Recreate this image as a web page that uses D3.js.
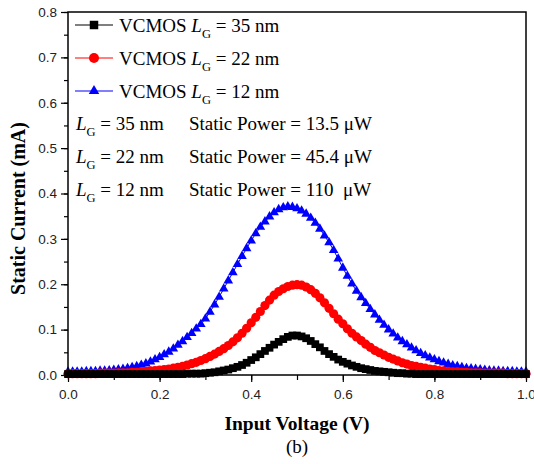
<!DOCTYPE html>
<html>
<head>
<meta charset="utf-8">
<script src="https://cdn.jsdelivr.net/npm/d3@7"></script>
<style>
  html, body { margin: 0; padding: 0; background: #fff; }
  svg { display: block; }
  .tick text { font-family: "Liberation Sans", Arial, sans-serif; font-size: 13.5px; fill: #222; }
  .serif { font-family: "Liberation Serif", "Times New Roman", serif; fill: #000; }
</style>
</head>
<body>
<svg id="chart" width="534" height="464"></svg>
<script>
// Input voltage sweep, 0 to 1 V in 10 mV steps
const inputVoltage = d3.range(0, 101).map(i => i / 100);

// Static current (mA) for each gate length
const current35 = [
  0.002,0.002,0.002,0.002,0.002,0.002,0.002,0.002,0.002,0.002,
  0.002,0.002,0.002,0.002,0.002,0.002,0.002,0.002,0.002,0.002,
  0.002,0.002,0.002,0.002,0.002,0.002,0.003,0.003,0.003,0.003,
  0.004,0.005,0.006,0.008,0.010,0.012,0.015,0.018,0.022,0.027,
  0.033,0.039,0.046,0.053,0.060,0.067,0.073,0.079,0.084,0.087,
  0.087,0.085,0.081,0.075,0.068,0.061,0.053,0.046,0.040,0.034,
  0.029,0.025,0.021,0.018,0.015,0.013,0.011,0.009,0.008,0.007,
  0.006,0.005,0.004,0.004,0.003,0.003,0.002,0.002,0.002,0.002,
  0.002,0.002,0.002,0.002,0.002,0.002,0.002,0.002,0.002,0.002,
  0.002,0.002,0.002,0.002,0.002,0.002,0.002,0.002,0.002,0.002,
  0.002
];
const current22 = [
  0.003,0.003,0.003,0.003,0.003,0.003,0.003,0.004,0.004,0.004,
  0.004,0.005,0.005,0.005,0.006,0.006,0.007,0.008,0.009,0.010,
  0.011,0.012,0.013,0.015,0.017,0.019,0.022,0.025,0.028,0.032,
  0.036,0.041,0.046,0.052,0.058,0.065,0.073,0.082,0.092,0.103,
  0.115,0.127,0.140,0.153,0.165,0.176,0.184,0.190,0.195,0.198,
  0.199,0.198,0.194,0.188,0.180,0.170,0.159,0.147,0.135,0.123,
  0.113,0.102,0.092,0.084,0.076,0.068,0.061,0.054,0.049,0.044,
  0.039,0.035,0.031,0.027,0.024,0.021,0.019,0.017,0.015,0.013,
  0.012,0.010,0.009,0.008,0.007,0.007,0.006,0.006,0.005,0.005,
  0.005,0.004,0.004,0.004,0.004,0.004,0.003,0.003,0.003,0.003,
  0.003
];
const current12 = [
  0.007,0.007,0.007,0.007,0.008,0.008,0.008,0.009,0.009,0.010,
  0.011,0.012,0.013,0.015,0.017,0.019,0.022,0.025,0.029,0.034,
  0.039,0.045,0.051,0.058,0.066,0.074,0.083,0.092,0.102,0.112,
  0.124,0.139,0.155,0.172,0.190,0.208,0.226,0.244,0.262,0.279,
  0.296,0.312,0.326,0.338,0.349,0.358,0.365,0.369,0.371,0.370,
  0.367,0.362,0.355,0.346,0.335,0.322,0.307,0.292,0.275,0.256,
  0.236,0.218,0.201,0.185,0.171,0.158,0.145,0.133,0.121,0.110,
  0.100,0.091,0.082,0.074,0.067,0.060,0.054,0.048,0.043,0.038,
  0.034,0.030,0.027,0.024,0.021,0.019,0.017,0.015,0.014,0.013,
  0.012,0.011,0.010,0.009,0.009,0.008,0.008,0.008,0.007,0.007,
  0.007
];

const seriesNames = ["35", "22", "12"];
const seriesColors = ["#000000", "#ff0000", "#0000ff"];
const seriesSymbols = [d3.symbolSquare, d3.symbolCircle, d3.symbolTriangle];
const seriesSymbolSizes = [60, 66, 40];
const staticPower = ["13.5", "45.4", "110 "];

const xTicks = [0, 0.2, 0.4, 0.6, 0.8, 1.0];
const yTicks = [0, 0.1, 0.2, 0.3, 0.4, 0.5, 0.6, 0.7, 0.8];

const series = [current35, current22, current12].map((vals, k) => ({
  name: seriesNames[k],
  color: seriesColors[k],
  symbol: seriesSymbols[k],
  size: seriesSymbolSizes[k],
  points: vals.map((v, i) => ({ x: inputVoltage[i], y: v }))
}));

const svg = d3.select("#chart");
const plot = { left: 68, right: 526, top: 12, bottom: 375 };

const x = d3.scaleLinear().domain([0, 1]).range([plot.left, plot.right]);
const y = d3.scaleLinear().domain([0, 0.8]).range([plot.bottom, plot.top]);

// minor ticks
const minorX = d3.range(0, 1.001, 0.1);
const minorY = d3.range(0, 0.801, 0.05);

svg.append("g")
  .attr("transform", `translate(0,${plot.bottom})`)
  .call(d3.axisBottom(x).tickValues(minorX).tickSize(5).tickFormat(""))
  .call(g => g.select(".domain").remove())
  .selectAll("line").attr("stroke", "#000").attr("stroke-width", 1.2);

svg.append("g")
  .attr("transform", `translate(${plot.left},0)`)
  .call(d3.axisLeft(y).tickValues(minorY).tickSize(4).tickFormat(""))
  .call(g => g.select(".domain").remove())
  .selectAll("line").attr("stroke", "#000").attr("stroke-width", 1.2);

const xAxis = svg.append("g")
  .attr("transform", `translate(0,${plot.bottom})`)
  .call(d3.axisBottom(x).tickValues(xTicks).tickSize(7).tickPadding(7).tickFormat(d3.format(".1f")));
xAxis.select(".domain").remove();
xAxis.selectAll("line").attr("stroke", "#000").attr("stroke-width", 1.2);

const yAxis = svg.append("g")
  .attr("transform", `translate(${plot.left},0)`)
  .call(d3.axisLeft(y).tickValues(yTicks).tickSize(7).tickPadding(4).tickFormat(d3.format(".1f")));
yAxis.select(".domain").remove();
yAxis.selectAll("line").attr("stroke", "#000").attr("stroke-width", 1.2);

// series: thin line plus markers
const line = d3.line().x(d => x(d.x)).y(d => y(d.y));
const drawOrder = [2, 1, 0];
drawOrder.forEach(k => {
  const s = series[k];
  const g = svg.append("g");
  g.append("path").datum(s.points)
    .attr("d", line).attr("fill", "none")
    .attr("stroke", s.color).attr("stroke-width", 1);
  g.selectAll("path.m").data(s.points).join("path")
    .attr("class", "m")
    .attr("transform", d => `translate(${x(d.x)},${y(d.y)})`)
    .attr("d", d3.symbol().type(s.symbol).size(s.size))
    .attr("fill", s.color);
});

// frame
svg.append("rect")
  .attr("x", plot.left).attr("y", plot.top)
  .attr("width", plot.right - plot.left).attr("height", plot.bottom - plot.top)
  .attr("fill", "none").attr("stroke", "#000").attr("stroke-width", 1.5);

// legend entries
const rowBase = [31.5, 64.5, 97.5];
series.forEach((s, k) => {
  const yc = rowBase[k] - 6.5;
  svg.append("line").attr("x1", 75).attr("x2", 113).attr("y1", yc).attr("y2", yc)
    .attr("stroke", s.color).attr("stroke-width", 1);
  svg.append("path").attr("transform", `translate(94,${yc})`)
    .attr("d", d3.symbol().type(s.symbol).size(s.size * 1.2)).attr("fill", s.color);
  const t = svg.append("text").attr("class", "serif").attr("x", 119).attr("y", rowBase[k])
    .attr("font-size", 19);
  t.append("tspan").text("VCMOS ");
  t.append("tspan").attr("font-style", "italic").text("L");
  t.append("tspan").attr("font-size", 12.5).attr("dy", 6.5).text("G");
  t.append("tspan").attr("dy", -6.5).text(` = ${s.name} nm`);
});

// static power annotations
const powerBase = [129.5, 162.5, 195.5];
series.forEach((s, k) => {
  const t = svg.append("text").attr("class", "serif").attr("x", 76).attr("y", powerBase[k])
    .attr("font-size", 19);
  t.append("tspan").attr("font-style", "italic").text("L");
  t.append("tspan").attr("font-size", 12.5).attr("dy", 6.5).text("G");
  t.append("tspan").attr("dy", -6.5).text(` = ${s.name} nm`);
  svg.append("text").attr("class", "serif").attr("x", 189).attr("y", powerBase[k])
    .attr("font-size", 19).attr("xml:space", "preserve")
    .text(`Static Power = ${staticPower[k]} \u03BCW`);
});

// axis titles
svg.append("text").attr("class", "serif")
  .attr("transform", `translate(25,${(plot.top + plot.bottom) / 2 + 15}) rotate(-90)`)
  .attr("text-anchor", "middle").attr("font-size", 20).attr("font-weight", "bold")
  .text("Static Current (mA)");

svg.append("text").attr("class", "serif")
  .attr("x", (plot.left + plot.right) / 2).attr("y", 430)
  .attr("text-anchor", "middle").attr("font-size", 19.5).attr("font-weight", "bold")
  .text("Input Voltage (V)");

svg.append("text").attr("class", "serif")
  .attr("x", (plot.left + plot.right) / 2).attr("y", 453)
  .attr("text-anchor", "middle").attr("font-size", 19)
  .text("(b)");
</script>
</body>
</html>
